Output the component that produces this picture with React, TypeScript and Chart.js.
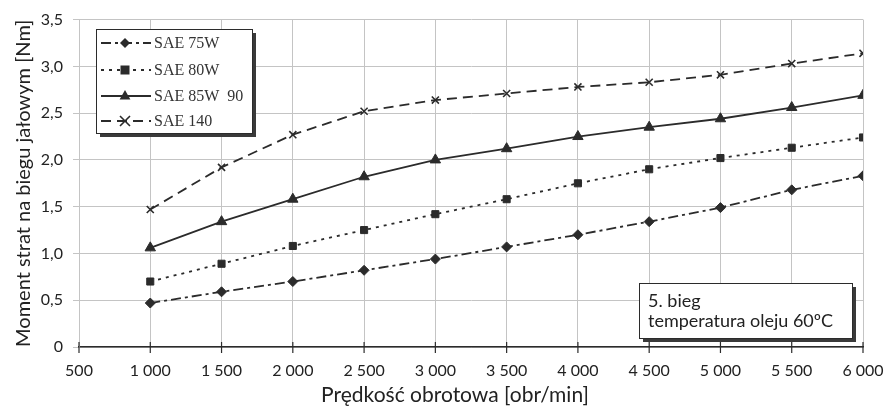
import React, { useEffect, useRef } from "react";
import { Chart, registerables } from "chart.js";

Chart.register(...registerables);

const speeds = [1000, 1500, 2000, 2500, 3000, 3500, 4000, 4500, 5000, 5500, 6000];
const sae75w = [0.47, 0.59, 0.70, 0.82, 0.94, 1.07, 1.20, 1.34, 1.49, 1.68, 1.83];
const sae80w = [0.70, 0.89, 1.08, 1.25, 1.42, 1.58, 1.75, 1.90, 2.02, 2.13, 2.24];
const sae85w90 = [1.06, 1.34, 1.58, 1.82, 2.00, 2.12, 2.25, 2.35, 2.44, 2.56, 2.69];
const sae140 = [1.47, 1.92, 2.27, 2.52, 2.64, 2.71, 2.78, 2.83, 2.91, 3.03, 3.14];

const seriesLabels = ["SAE 75W", "SAE 80W", "SAE 85W  90", "SAE 140"];
const xTitle = "Prędkość obrotowa [obr/min]";
const yTitle = "Moment strat na biegu jałowym [Nm]";
const noteLines = ["5. bieg", "temperatura oleju 60ºC"];

const INK = "#2b2b2b";
const GRID = "#c4c4c4";

const styles = [
  { dash: [10, 4, 3, 4], point: "rectRot", radius: 5 },
  { dash: [3, 5], point: "rect", radius: 5 },
  { dash: [], point: "triangle", radius: 6 },
  { dash: [10, 6], point: "crossRot", radius: 5 },
];

function drawPointMarker(ctx: CanvasRenderingContext2D, style: string, r: number, x: number, y: number) {
  ctx.save();
  ctx.fillStyle = INK;
  ctx.strokeStyle = INK;
  ctx.lineWidth = 1.6;
  ctx.beginPath();
  if (style === "rectRot") {
    ctx.moveTo(x, y - r);
    ctx.lineTo(x + r, y);
    ctx.lineTo(x, y + r);
    ctx.lineTo(x - r, y);
    ctx.closePath();
    ctx.fill();
  } else if (style === "rect") {
    const s = r * 0.9;
    ctx.rect(x - s, y - s, 2 * s, 2 * s);
    ctx.fill();
  } else if (style === "triangle") {
    ctx.moveTo(x, y - r);
    ctx.lineTo(x + r * 0.9, y + r * 0.6);
    ctx.lineTo(x - r * 0.9, y + r * 0.6);
    ctx.closePath();
    ctx.fill();
  } else {
    ctx.moveTo(x - r, y - r);
    ctx.lineTo(x + r, y + r);
    ctx.moveTo(x + r, y - r);
    ctx.lineTo(x - r, y + r);
    ctx.stroke();
  }
  ctx.restore();
}

const overlayPlugin = {
  id: "overlay",
  afterDraw(chart: any) {
    const ctx = chart.ctx as CanvasRenderingContext2D;
    const xs = chart.scales.x;
    const ys = chart.scales.y;
    ctx.save();
    const y0 = ys.getPixelForValue(0);
    ctx.strokeStyle = INK;
    ctx.lineWidth = 1.2;
    ctx.setLineDash([]);
    for (let v = 500; v <= 6000; v += 500) {
      const px = xs.getPixelForValue(v);
      ctx.beginPath();
      ctx.moveTo(px, y0 - 5);
      ctx.lineTo(px, y0 + 6);
      ctx.stroke();
    }
    // x axis title
    ctx.fillStyle = "#222";
    ctx.font = "21px Lato, sans-serif";
    ctx.textAlign = "center";
    ctx.textBaseline = "middle";
    ctx.fillText(xTitle, 455, 395);
    // legend box
    const lx = 96, ly = 29, lw = 156, lh = 104;
    ctx.fillStyle = "#3a3a3a";
    ctx.fillRect(lx + 4, ly + 4, lw, lh);
    ctx.fillStyle = "#ffffff";
    ctx.fillRect(lx, ly, lw, lh);
    ctx.strokeStyle = INK;
    ctx.lineWidth = 1;
    ctx.strokeRect(lx + 0.5, ly + 0.5, lw, lh);
    const rows = [43, 70, 96, 121];
    chart.data.datasets.forEach((ds: any, i: number) => {
      const ry = rows[i];
      ctx.strokeStyle = INK;
      ctx.lineWidth = 1.8;
      ctx.setLineDash(styles[i].dash.length ? styles[i].dash : []);
      ctx.beginPath();
      ctx.moveTo(101, ry);
      ctx.lineTo(151, ry);
      ctx.stroke();
      ctx.setLineDash([]);
      drawPointMarker(ctx, styles[i].point, styles[i].radius, 125, ry);
      ctx.fillStyle = "#333";
      ctx.font = "16px 'Liberation Serif', serif";
      ctx.textBaseline = "middle";
      ctx.textAlign = "left";
      ctx.fillText(ds.label, 154, ry + 1);
    });
    // note box
    const nx = 639, ny = 283, nw = 213, nh = 55;
    ctx.fillStyle = "#3a3a3a";
    ctx.fillRect(nx + 4, ny + 4, nw, nh);
    ctx.fillStyle = "#ffffff";
    ctx.fillRect(nx, ny, nw, nh);
    ctx.strokeStyle = INK;
    ctx.lineWidth = 1;
    ctx.strokeRect(nx + 0.5, ny + 0.5, nw, nh);
    ctx.fillStyle = "#222";
    ctx.font = "18px Lato, sans-serif";
    ctx.textBaseline = "middle";
    ctx.textAlign = "left";
    ctx.fillText(noteLines[0], nx + 9, ny + 18);
    ctx.fillText(noteLines[1], nx + 9, ny + 38);
    ctx.restore();
  },
};

function fmtX(v: number) {
  return String(v).replace(/\B(?=(\d{3})+(?!\d))/g, " ");
}
function fmtY(v: number) {
  return v === 0 ? "0" : v.toFixed(1).replace(".", ",");
}

export default function App() {
  const ref = useRef<HTMLCanvasElement>(null);
  useEffect(() => {
    if (!ref.current) return;
    const all = [sae75w, sae80w, sae85w90, sae140];
    const chart = new Chart(ref.current, {
      type: "line",
      data: {
        datasets: all.map((vals, i) => ({
          label: seriesLabels[i],
          data: speeds.map((s, j) => ({ x: s, y: vals[j] })),
          borderColor: INK,
          backgroundColor: INK,
          borderWidth: 1.8,
          borderDash: styles[i].dash,
          pointStyle: styles[i].point as any,
          pointRadius: styles[i].radius,
          pointBorderWidth: styles[i].point === "crossRot" ? 1.6 : 1,
          pointBorderColor: INK,
          pointBackgroundColor: INK,
          fill: false,
          tension: 0,
        })),
      },
      options: {
        animation: false,
        responsive: false,
        maintainAspectRatio: false,
        layout: { padding: { left: 0, top: 19, right: 23, bottom: 0 } },
        plugins: { legend: { display: false }, tooltip: { enabled: false } },
        scales: {
          x: {
            type: "linear",
            min: 500,
            max: 6000,
            afterFit: (s: any) => { s.height = 65; s.paddingLeft = 0; s.paddingRight = 0; },
            ticks: {
              stepSize: 500,
              color: "#222",
              font: { family: "Lato, sans-serif", size: 16 },
              padding: 14,
              maxRotation: 0,
              autoSkip: false,
              callback: (v: any) => fmtX(Number(v)),
            },
            grid: { color: GRID, lineWidth: 1, drawTicks: false },
            border: { color: INK, width: 1.5 },
            title: { display: false, text: xTitle },
          },
          y: {
            min: 0,
            max: 3.5,
            afterFit: (s: any) => { s.width = 79; },
            ticks: {
              stepSize: 0.5,
              color: "#222",
              font: { family: "Lato, sans-serif", size: 16 },
              padding: 10,
              callback: (v: any) => fmtY(Number(v)),
            },
            grid: { color: GRID, lineWidth: 1, tickLength: 6 },
            border: { color: GRID, width: 1 },
            title: {
              display: true,
              text: yTitle,
              color: "#222",
              font: { family: "Lato, sans-serif", size: 20 },
              padding: { top: 12, bottom: 0 },
            },
          },
        },
      },
      plugins: [overlayPlugin],
    });
    return () => chart.destroy();
  }, []);
  return (
    <div style={{ position: "absolute", left: 0, top: 0, width: 886, height: 412, background: "#fff" }}>
      <canvas ref={ref} width={886} height={412} style={{ width: 886, height: 412 }} />
    </div>
  );
}
